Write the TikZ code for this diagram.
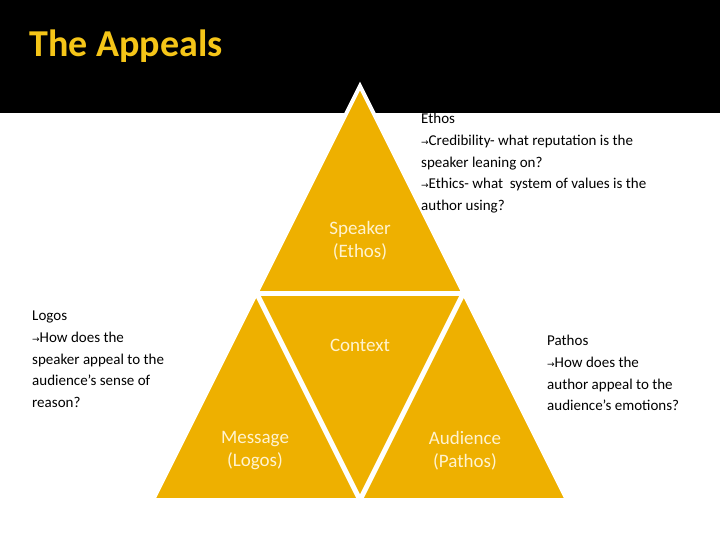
\documentclass[tikz,border=0pt]{standalone}
\usepackage{fontspec}
\usetikzlibrary{calc}
\setmainfont{Carlito}
\newfontfamily\dv{DejaVu Sans}
\definecolor{gold}{HTML}{EEB000}
\definecolor{cream}{HTML}{FFF3D0}
\definecolor{ttl}{HTML}{F5C518}
\newcommand{\arr}{{\dv\small →}}
\begin{document}
\begin{tikzpicture}[x=1pt,y=-1pt,
  lbl/.style={text=cream,font=\fontsize{19}{23}\selectfont,align=center},
  note/.style={anchor=north west,align=left,font=\fontsize{15}{21.7}\selectfont,inner sep=0pt}]
\useasboundingbox (0,0) rectangle (720,540);
\fill[white] (0,0) rectangle (720,540);
\fill[black] (0,0) rectangle (720,113);
\node[anchor=west,text=ttl,font=\fontsize{38}{40}\selectfont\bfseries] (title) at (26,46) {The Appeals};
\coordinate (A) at (360,86);
\coordinate (L) at (153,500);
\coordinate (R) at (567,500);
\coordinate (ML) at (256.5,293);
\coordinate (MR) at (463.5,293);
\coordinate (MB) at (360,500);
\filldraw[fill=gold,draw=white,line width=4pt,line join=miter] (A) -- (L) -- (R) -- cycle;
\draw[white,line width=5pt] ($(ML)+(-20,0)$) -- ($(MR)+(20,0)$);
\draw[white,line width=5pt] (ML) -- (MB) -- (MR);
\node[lbl] (sp) at (360,241) {Speaker\\(Ethos)};
\node[lbl] (ctx) at (360,345) {Context};
\node[lbl] (msg) at (255,451) {Message\\(Logos)};
\node[lbl] (aud) at (465,451) {Audience\\(Pathos)};
\node[note] (eth) at (421,113) {Ethos\\\arr Credibility- what reputation is the\\speaker leaning on?\\\arr Ethics- what\ \ system of values is the\\author using?};
\node[note] (log) at (32,311) {Logos\\\arr How does the\\speaker appeal to the\\audience’s sense of\\reason?};
\node[note] (pat) at (547,335) {Pathos\\\arr How does the\\author appeal to the\\audience's emotions?};
\end{tikzpicture}
\end{document}
